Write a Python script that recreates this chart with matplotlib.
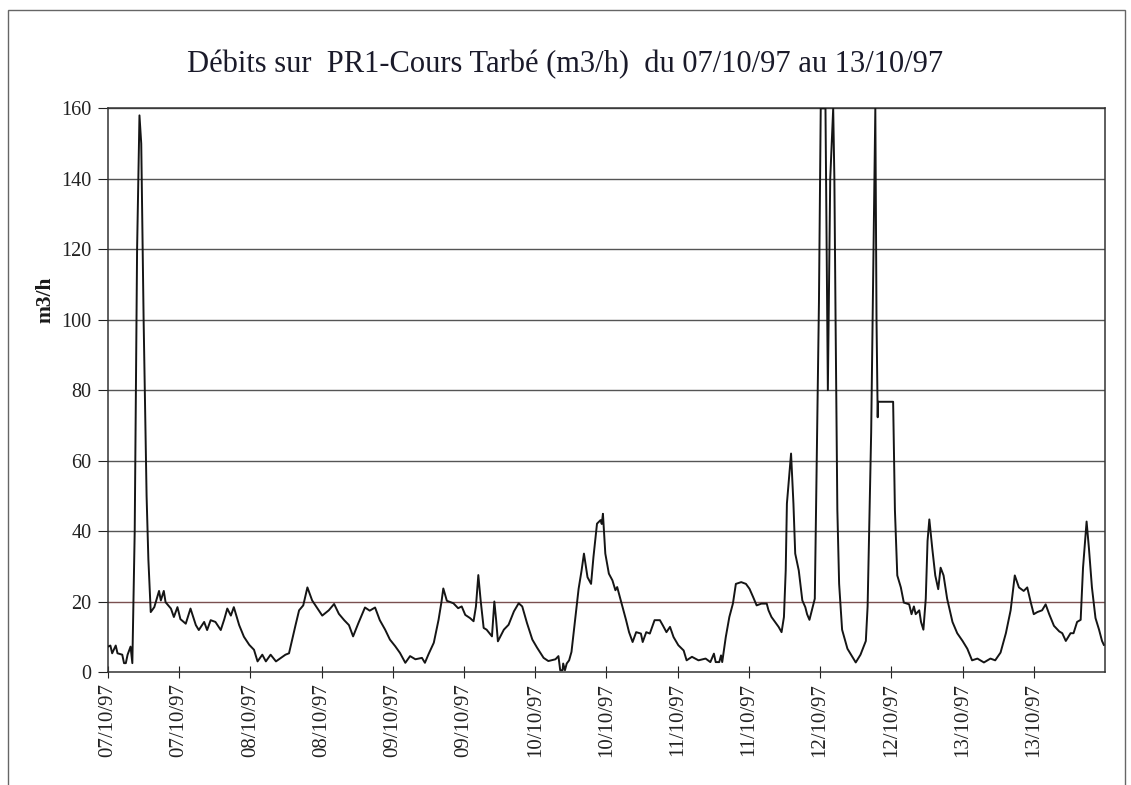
import numpy as np
import matplotlib
matplotlib.use('Agg')
import matplotlib.pyplot as plt
from matplotlib.patches import Rectangle

# readings (hours since 07/10/97 00:00, flow in m3/h)
hours = [0, 0.4, 0.7, 1.3, 1.6, 2.4, 2.7, 3.0, 3.3, 3.8, 4.1, 4.5, 4.9, 5.3, 5.6, 6.0, 6.5, 6.8,
         7.2, 7.8, 8.6, 8.9, 9.4, 9.7, 10.6, 11.1, 11.7, 12.2, 13.1, 13.9, 14.8, 15.3, 16.2, 16.7,
         17.3, 18.1, 19.0, 19.6, 20.1, 20.7, 21.2, 22.1, 22.9, 23.8, 24.6, 25.2, 26.0, 26.6, 27.4,
         28.3, 29.9, 30.5, 31.6, 32.2, 32.9, 33.6, 34.4, 35.3, 36.1, 37.2, 38.1, 38.9, 39.8, 40.6,
         41.3, 42.2, 43.3, 44.1, 45.0, 45.8, 46.7, 47.5, 48.4, 49.2, 50.1, 50.9, 51.8, 52.9, 53.4,
         54.0, 54.9, 55.7, 56.2, 56.5, 57.1, 58.2, 59.0, 59.6, 60.2, 61.0, 61.6, 62.0, 62.4, 62.8,
         63.3, 63.8, 64.7, 65.1, 65.4, 65.7, 66.7, 67.5, 68.4, 69.2, 69.8, 70.6, 71.5, 72.3, 73.4,
         74.2, 75.4, 75.9, 76.2, 76.6, 76.7, 77.0, 77.3, 77.7, 78.1, 78.7, 79.3, 79.8, 80.2, 80.8,
         81.4, 81.8, 82.4, 83.0, 83.2, 83.4, 83.8, 84.4, 85.0, 85.5, 85.8, 86.4, 87.3, 87.8, 88.4,
         89.0, 89.8, 90.1, 90.7, 91.3, 92.1, 93.0, 93.5, 94.1, 94.7, 95.3, 96.1, 97.0, 97.5, 98.4,
         99.5, 100.7, 101.5, 102.1, 102.4, 103.0, 103.3, 103.5, 104.1, 104.7, 105.3, 105.8, 106.7,
         107.5, 108.1, 108.7, 109.3, 110.1, 111.0, 111.3, 111.8, 112.4, 113.0, 113.5, 113.9, 114.2,
         114.4, 115.1, 115.5, 115.8, 116.4, 117.0, 117.5, 117.8, 118.2, 118.7, 119.1, 119.4, 119.8,
         120.1, 120.9, 121.3, 121.7, 122.2, 122.4, 122.6, 122.9, 123.2, 123.7, 124.6, 125.4, 126.0,
         126.8, 127.7, 128.0, 128.2, 128.6, 129.1, 129.3, 129.5, 129.7, 129.75, 132.3, 132.6, 133.0,
         133.6, 134.1, 135.0, 135.4, 135.8, 136.1, 136.7, 137.0, 137.4, 137.8, 138.1, 138.4, 138.9,
         139.4, 139.9, 140.3, 140.8, 141.4, 142.3, 143.1, 144.0, 144.8, 145.6, 146.5, 147.6, 148.7,
         149.5, 150.4, 151.3, 152.1, 152.8, 153.5, 154.3, 154.9, 155.5, 156.0, 156.6, 157.4, 158.0,
         158.6, 159.4, 160.3, 160.8, 161.4, 162.2, 162.7, 163.3, 163.9, 164.3, 164.9, 165.3, 165.8,
         166.4, 167.0, 167.5, 167.8]
flow = [7.2, 7.5, 5.3, 7.5, 5.3, 4.9, 2.5, 2.5, 4.9, 7.2, 2.5, 40, 120, 158, 150, 100, 50, 32,
        17, 18.4, 23, 20.3, 23, 19.8, 18, 15.6, 18.4, 15, 13.7, 18, 13.3, 11.9, 14.2, 11.9,
        14.7, 14.2, 11.9, 15, 18, 16, 18.4, 13.3, 10, 7.7, 6.3, 3, 4.9, 3, 4.9,
        3, 4.9, 5.3, 13.3, 17.5, 18.9, 24, 20.3, 18, 16, 17.5, 19.3, 16.5, 14.7, 13.3,
        10.1, 13.9, 18.3, 17.4, 18.3, 14.7, 12, 9.2, 7.3, 5.4, 2.6, 4.5, 3.6, 4, 2.6,
        5, 8.3, 14.8, 20, 23.7, 20.2, 19.5, 18.1, 18.6, 16.2, 15.3, 14.4, 18.6, 27.5, 20.2,
        12.5, 12, 10.1, 20, 14.8, 8.7, 12, 13.4, 17.2, 19.5, 18.6, 13.9, 9.2, 6.9, 4,
        3.1, 3.6, 4.5, 0.5, 0.5, 2.4, 0.5, 2.4, 3.3, 5.7, 14.7, 23.6, 28.8, 33.6, 26.9,
        25, 32.6, 42.1, 43.1, 42, 44.9, 33.6, 27.9, 26, 23.2, 24.1, 20.3, 14.7, 11.3, 8.5,
        11.3, 10.9, 8.5, 11.3, 10.9, 14.7, 14.7, 13.2, 11.3, 12.8, 9.9, 7.6, 6.1, 3.3, 4.3,
        3.3, 3.8, 2.8, 5.2, 2.8, 2.8, 4.7, 2.8, 9.9, 15.6, 19.4, 25, 25.5,
        25, 23.6, 21.3, 18.9, 19.4, 19.4, 17.5, 15.6, 14.2, 12.8, 11.3, 15.6, 28.8,
        47.8, 62, 47.8, 33.6, 28.8, 20.3, 18.4, 16.4, 14.8, 18.1, 20.8, 57, 105,
        160, 160, 80, 140, 160, 140, 100, 46, 25, 12, 6.6, 4.4, 2.7,
        4.9, 8.8, 18.6, 35, 68, 133.6, 160, 100, 72.3, 76.7, 76.7, 46, 27.4,
        24, 19.7, 19.2, 16.4, 18.6, 16.4, 17.5, 14.2, 12, 20.8, 37.2, 43.3, 35,
        27.4, 23.5, 29.6, 27.4, 20.8, 14.2, 11, 8.8, 6.6, 3.3, 3.8, 2.7, 3.8,
        3.3, 5.5, 11, 17.5, 27.4, 24, 23, 24, 19.7, 16.4, 17, 17.5, 19.2,
        16.4, 13.1, 11.5, 11, 8.8, 11, 11, 14.2, 14.8, 29.6, 42.7, 35, 24,
        15.3, 12, 8.8, 7.7]

# axis labels
tick_hours = [0, 12, 24, 36, 48, 60, 72, 84, 96, 108, 120, 132, 144, 156]
tick_labels = ['07/10/97', '07/10/97', '08/10/97', '08/10/97', '09/10/97', '09/10/97', '10/10/97',
               '10/10/97', '11/10/97', '11/10/97', '12/10/97', '12/10/97', '13/10/97', '13/10/97']
y_ticks = [0, 20, 40, 60, 80, 100, 120, 140, 160]

title = 'Débits sur  PR1-Cours Tarbé (m3/h)  du 07/10/97 au 13/10/97'


def main():
    plt.rcParams['font.family'] = ['Liberation Serif', 'DejaVu Serif']

    fig = plt.figure(figsize=(11.31, 7.85), dpi=100)
    ax = fig.add_axes([0.0955, 0.144, 0.8815, 0.718])

    # outer frame of the chart
    fig.patches.append(Rectangle((8/1131, -0.02), 1117/1131, 1.02 - 10/785,
                                 transform=fig.transFigure, fill=False,
                                 edgecolor='#666666', linewidth=1.0))

    # gridlines
    for v in y_ticks[1:]:
        col = '#7a5050' if v == 20 else '#555555'
        ax.axhline(v, color=col, linewidth=1.0, zorder=1)

    ax.plot(hours, flow, color='#151515', linewidth=1.4, zorder=3)

    ax.set_xlim(0, 168)
    ax.set_ylim(0, 160)
    ax.set_xticks(tick_hours)
    ax.set_xticklabels(tick_labels, rotation=90, fontsize=15)
    ax.set_yticks(y_ticks)
    ax.set_yticklabels([str(v) for v in y_ticks], fontsize=14.5)
    ax.tick_params(axis='x', direction='inout', length=8, width=0.8, pad=4, colors='#222222')
    ax.tick_params(axis='y', direction='out', length=7, width=0.8, pad=5, colors='#222222')

    for s in ['left', 'right', 'bottom', 'top']:
        ax.spines[s].set_color('#333333')
        ax.spines[s].set_linewidth(1.1)

    fig.text(0.5, 1 - 65/785, title, ha='center', va='center', fontsize=22, color='#1a1a2a')
    fig.text(45/1131, 1 - 300/785, 'm3/h', rotation=90, ha='center', va='center',
             fontsize=15.5, fontweight='bold', color='#1a1a1a')

    plt.savefig('out.png', dpi=100)


if __name__ == "__main__":
    main()
